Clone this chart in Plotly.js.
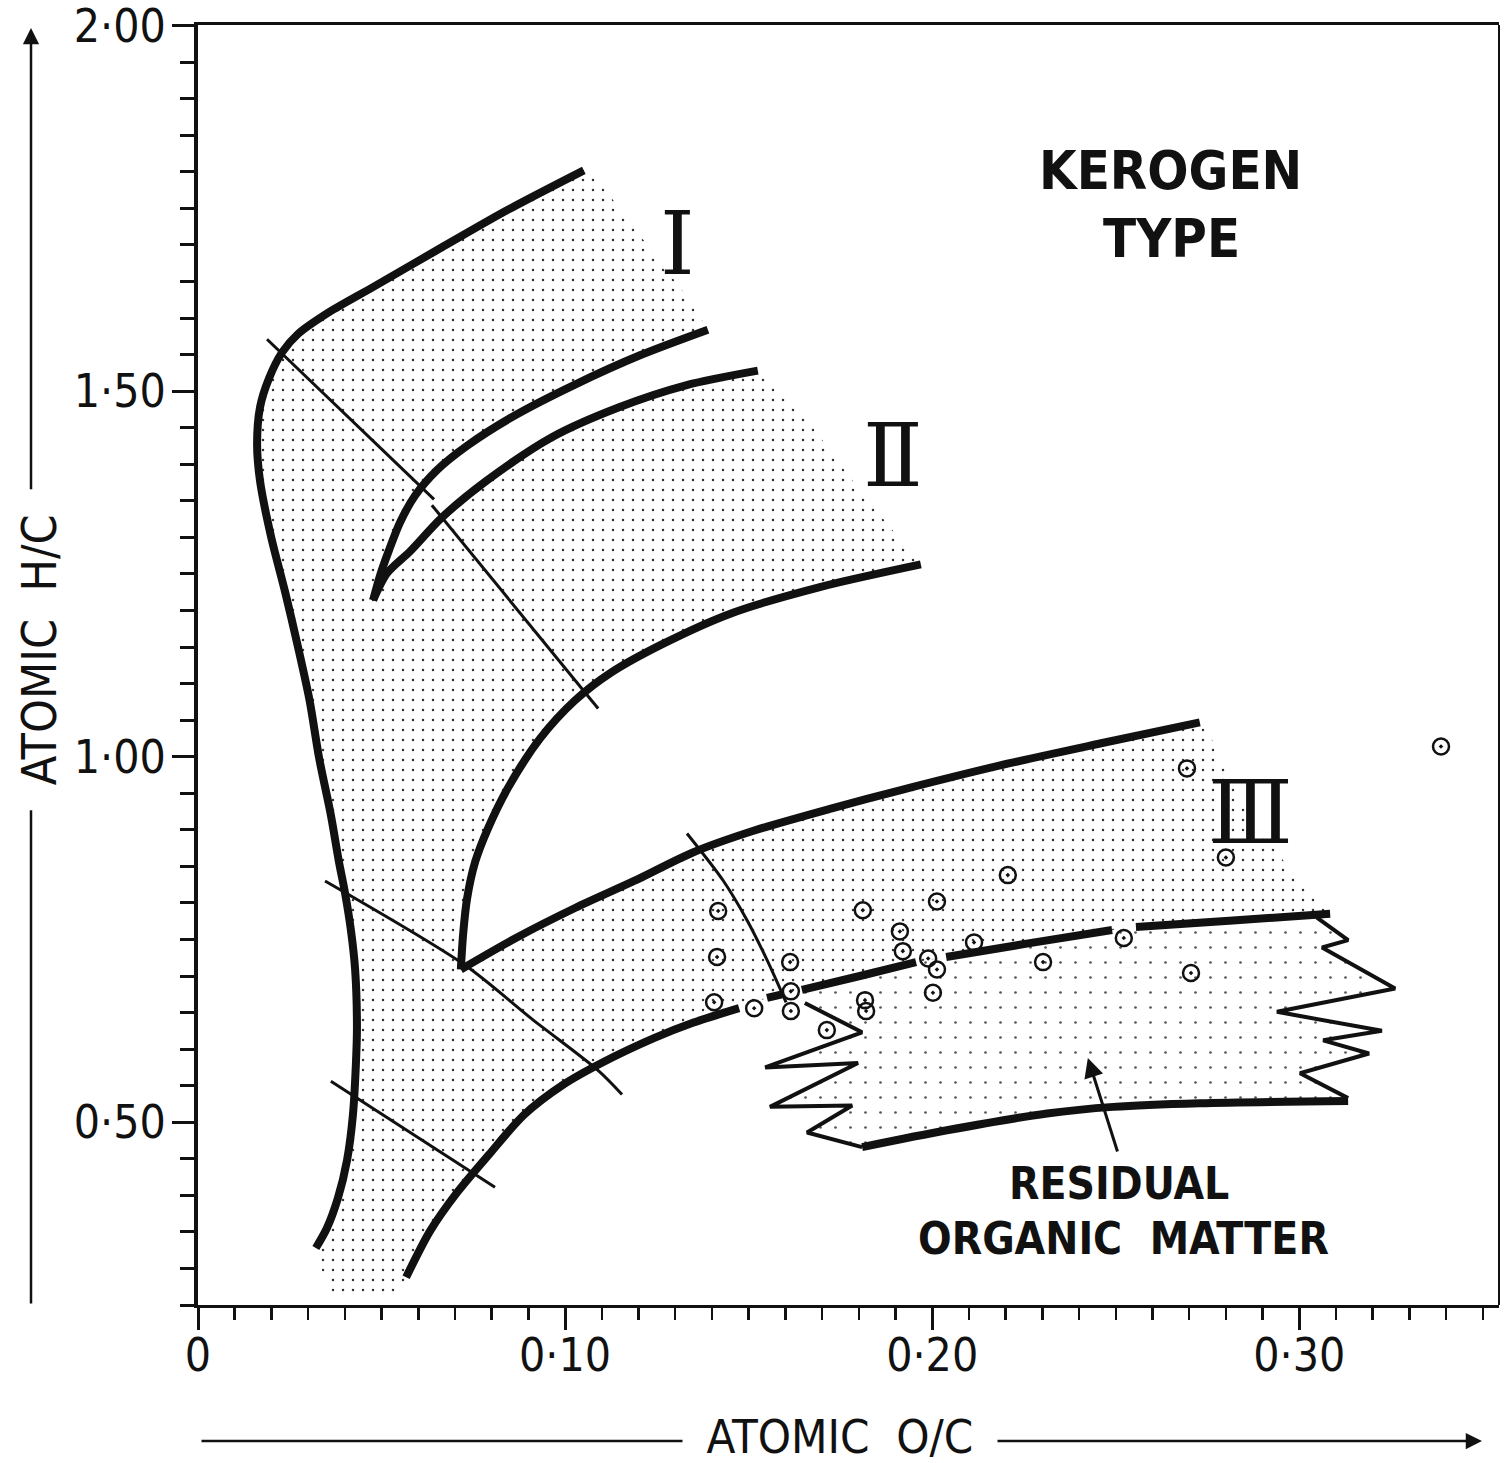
<!DOCTYPE html>
<html><head><meta charset="utf-8">
<script src="https://cdn.plot.ly/plotly-3.0.1.min.js"></script>
<style>html,body{margin:0;padding:0;background:#fff}</style>
</head><body><div id="chart" style="width:1512px;height:1463px"></div>
<script>
// ---------- DATA (atomic O/C on x, atomic H/C on y) ----------
const xTickVals = [0, 0.1, 0.2, 0.3];
const xTickText = ['0', '0·10', '0·20', '0·30'];
const yTickVals = [0.5, 1.0, 1.5, 2.0];
const yTickText = ['0·50', '1·00', '1·50', '2·00'];

// outer boundary of Type I (continues as left boundary down to low H/C)
const outerX = [0.1051,0.0844,0.0662,0.0479,0.0357,0.0272,0.0229,0.0193,0.0169,0.0161,0.0169,0.0199,0.0237,0.0272,0.0304,0.0330,0.0362,0.0384,0.0400,0.0417,0.0428,0.0433,0.0430,0.0422,0.0406,0.0381,0.0351,0.0321];
const outerY = [1.802,1.748,1.696,1.643,1.608,1.578,1.553,1.517,1.478,1.427,1.377,1.301,1.226,1.151,1.077,0.998,0.920,0.856,0.815,0.761,0.709,0.630,0.578,0.510,0.448,0.396,0.355,0.328];
// inner boundary of Type I (end -> tip)
const typeIInnerX = [0.1389,0.1204,0.1027,0.0864,0.0735,0.0651,0.0591,0.0550,0.0520,0.0496,0.0477];
const typeIInnerY = [1.584,1.549,1.509,1.467,1.426,1.392,1.357,1.320,1.282,1.248,1.214];
// upper boundary of Type II (tip -> end)
const typeIIUpperX = [0.0477,0.0515,0.0578,0.0662,0.0785,0.0964,0.1147,0.1329,0.1525];
const typeIIUpperY = [1.214,1.251,1.281,1.326,1.377,1.437,1.478,1.508,1.528];
// lower boundary of Type II (end -> tip)
const typeIILowerX = [0.1969,0.1694,0.1452,0.1269,0.1125,0.1027,0.0932,0.0844,0.0790,0.0755,0.0733,0.0722,0.0716];
const typeIILowerY = [1.263,1.232,1.196,1.155,1.115,1.077,1.025,0.957,0.902,0.856,0.806,0.756,0.709];
// upper boundary of Type III (tip -> end)
const typeIIIUpperX = [0.0716,0.0866,0.1027,0.1188,0.1348,0.1509,0.1724,0.1912,0.2185,0.2457,0.2729];
const typeIIIUpperY = [0.709,0.752,0.793,0.830,0.869,0.898,0.929,0.954,0.988,1.018,1.047];
// lower boundary of Type III (continues as top of residual organic matter)
const typeIIILowerX = [0.0567,0.0632,0.0706,0.0793,0.0888,0.0994,0.1103,0.1242,0.1348,0.1474,0.1550,0.1591,0.1645,0.1803,0.1956,0.2038,0.2266,0.2490,0.2555,0.2819,0.3084];
const typeIIILowerY = [0.288,0.351,0.404,0.456,0.510,0.551,0.582,0.615,0.636,0.656,0.670,0.675,0.681,0.700,0.719,0.726,0.745,0.763,0.767,0.776,0.785];
const typeIIILowerBreaks = [9, 11, 14, 17];

// residual organic matter outline
const residLeftX = [0.1653,0.1809,0.1545,0.1798,0.1558,0.1782,0.1659,0.1809];
const residLeftY = [0.663,0.623,0.575,0.581,0.521,0.523,0.486,0.466];
const residBottomX = [0.1809,0.2040,0.2313,0.2493,0.2729,0.3133];
const residBottomY = [0.466,0.489,0.512,0.521,0.526,0.529];
const residRightX = [0.3048,0.3133,0.3062,0.3261,0.2939,0.3225,0.3065,0.3190,0.3002,0.3133];
const residRightY = [0.780,0.749,0.739,0.683,0.651,0.625,0.612,0.594,0.567,0.533];

// maturity lines (thin)
const matA1X = [0.0188,0.0643], matA1Y = [1.571,1.352];
const matA2X = [0.0637,0.1090], matA2Y = [1.344,1.066];
const matBX = [0.0346,0.0727,0.0910,0.1092,0.1155], matBY = [0.830,0.715,0.641,0.570,0.538];
const matCX = [0.0362,0.0809], matCY = [0.556,0.411];
const matDX = [0.1332,0.1430,0.1496,0.1550,0.1602], matDY = [0.895,0.831,0.776,0.722,0.664];

// edges where the stippling fades out
const bottomFadeX = [0.0354,0.0545], bottomFadeY = [0.268,0.262];
const typeIIIEdgeX = [0.2975,0.2838,0.2757], typeIIIEdgeY = [0.845,0.940,1.029];
const typeIIEdgeX = [0.1803,0.1640], typeIIEdgeY = [1.364,1.474];
const typeIEdgeX = [0.1340,0.1204,0.1095], typeIEdgeY = [1.624,1.713,1.785];

// samples
const sampleOC = [0.3386,0.2694,0.2800,0.2206,0.2013,0.1811,0.1417,0.1912,0.2114,0.2522,0.1920,0.1414,0.1613,0.1989,0.2013,0.2302,0.2705,0.1615,0.2002,0.1406,0.1515,0.1615,0.1817,0.1820,0.1713];
const sampleHC = [1.014,0.984,0.862,0.838,0.802,0.790,0.789,0.761,0.746,0.752,0.734,0.726,0.719,0.724,0.709,0.719,0.704,0.679,0.677,0.664,0.656,0.652,0.667,0.652,0.626];

// ---------- BUILD ----------
const rev = a => a.slice().reverse();
const INK = '#111';
const FONT = '"Liberation Sans Narrow", "DejaVu Sans Condensed", "Arial Narrow", sans-serif';
const SERIF = '"DejaVu Serif", "Liberation Serif", serif';

const bigX = [].concat(outerX, bottomFadeX, typeIIILowerX, typeIIIEdgeX, rev(typeIIIUpperX), rev(typeIILowerX), typeIIEdgeX, rev(typeIIUpperX), rev(typeIInnerX), typeIEdgeX);
const bigY = [].concat(outerY, bottomFadeY, typeIIILowerY, typeIIIEdgeY, rev(typeIIIUpperY), rev(typeIILowerY), typeIIEdgeY, rev(typeIIUpperY), rev(typeIInnerY), typeIEdgeY);

const residX = [].concat(residLeftX, residBottomX, rev(residRightX), rev(typeIIILowerX.slice(12)));
const residY = [].concat(residLeftY, residBottomY, rev(residRightY), rev(typeIIILowerY.slice(12)));

// dashed upper line of residual: insert gaps
const lowX = [], lowY = [];
typeIIILowerX.forEach((v, i) => {
  lowX.push(v); lowY.push(typeIIILowerY[i]);
  if (typeIIILowerBreaks.includes(i)) { lowX.push(null); lowY.push(null); }
});

function curve(x, y, w, shape) {
  return {type:'scatter', mode:'lines', x, y, hoverinfo:'skip', showlegend:false,
    line:{color:INK, width:w, shape: shape || 'spline', smoothing:0.8}};
}

const traces = [
  {type:'scatter', mode:'lines', x:bigX, y:bigY, fill:'toself', hoverinfo:'skip', showlegend:false,
   line:{width:0, color:'rgba(0,0,0,0)'}, fillcolor:'rgba(255,255,255,0)',
   fillpattern:{shape:'.', fgcolor:'#333', bgcolor:'rgba(255,255,255,0)', size:10, solidity:0.05}},
  {type:'scatter', mode:'lines', x:residX, y:residY, fill:'toself', hoverinfo:'skip', showlegend:false,
   line:{width:0, color:'rgba(0,0,0,0)'}, fillcolor:'rgba(255,255,255,0)',
   fillpattern:{shape:'.', fgcolor:'#555', bgcolor:'rgba(255,255,255,0)', size:15, solidity:0.025}},
  curve(matA1X, matA1Y, 3, 'linear'),
  curve(matA2X, matA2Y, 3, 'linear'),
  curve(matBX, matBY, 3),
  curve(matCX, matCY, 3, 'linear'),
  curve(matDX, matDY, 3),
  curve(outerX, outerY, 8),
  curve(typeIInnerX, typeIInnerY, 8),
  curve(typeIIUpperX, typeIIUpperY, 8),
  curve(typeIILowerX, typeIILowerY, 8),
  curve(typeIIIUpperX, typeIIIUpperY, 8),
  curve(lowX, lowY, 8),
  curve(residLeftX, residLeftY, 4, 'linear'),
  curve(residRightX, residRightY, 4, 'linear'),
  curve(residBottomX, residBottomY, 8),
  {type:'scatter', mode:'markers', x:sampleOC, y:sampleHC, hoverinfo:'skip', showlegend:false,
   marker:{symbol:'circle-open-dot', size:16, color:INK, line:{width:2.5, color:INK}}}
];

const labelFont = (s, bold) => ({family:FONT, size:s, color:INK, weight: bold ? 'bold' : 'normal'});

const annotations = [
  // axis arrows
  {xref:'paper', yref:'paper', x:0.98693, y:-0.10625, ax:-1282, ay:0, text:'', showarrow:true,
   arrowhead:2, arrowsize:1.3, arrowwidth:2.5, arrowcolor:INK, standoff:0},
  {xref:'paper', yref:'paper', x:-0.12836, y:0.99766, ax:0, ay:1277, text:'', showarrow:true,
   arrowhead:2, arrowsize:1.3, arrowwidth:2.5, arrowcolor:INK, standoff:0},
  // axis titles
  {xref:'paper', yref:'paper', x:0.4935, y:-0.1025, text:'ATOMIC\u00a0\u00a0O/C', showarrow:false,
   font:labelFont(47), bgcolor:'#fff', borderpad:3, width:308, height:42, xanchor:'center', yanchor:'middle'},
  {xref:'paper', yref:'paper', x:-0.1224, y:0.5117, text:'ATOMIC\u00a0\u00a0H/C', showarrow:false, textangle:-90,
   font:labelFont(48), bgcolor:'#fff', borderpad:4, width:312, height:44, xanchor:'center', yanchor:'middle'},
  // labels
  {x:0.2648, y:1.802, text:'KEROGEN', showarrow:false, font:labelFont(54, true)},
  {x:0.2651, y:1.709, text:'TYPE', showarrow:false, font:labelFont(54, true)},
  {x:0.1305, y:1.702, text:'Ⅰ', showarrow:false, font:{family:SERIF, size:88, color:INK}},
  {x:0.1893, y:1.412, text:'Ⅱ', showarrow:false, font:{family:SERIF, size:88, color:INK}},
  {x:0.2868, y:0.923, text:'Ⅲ', showarrow:false, font:{family:SERIF, size:88, color:INK}},
  {x:0.2509, y:0.416, text:'RESIDUAL', showarrow:false, font:labelFont(44, true)},
  {x:0.2520, y:0.341, text:'ORGANIC\u00a0\u00a0MATTER', showarrow:false, font:labelFont(44, true)},
  {x:0.2424, y:0.588, ax:0.2506, ay:0.458, axref:'x', ayref:'y', text:'', showarrow:true,
   arrowhead:2, arrowsize:1.3, arrowwidth:3, arrowcolor:INK, standoff:0}
];

const layout = {
  width:1512, height:1463,
  margin:{l:198, r:13, t:25, b:158, pad:0},
  paper_bgcolor:'#fff', plot_bgcolor:'#fff',
  showlegend:false,
  xaxis:{range:[0, 0.3544], tickmode:'array', tickvals:xTickVals, ticktext:xTickText,
    showgrid:false, zeroline:false, showline:true, linewidth:3, linecolor:INK, mirror:true,
    ticks:'outside', ticklen:22, tickwidth:3, tickcolor:INK, ticklabelstandoff:-14, ticklabeloverflow:'allow',
    tickfont:{family:FONT, size:46, color:INK},
    minor:{tickmode:'linear', tick0:0, dtick:0.01, ticks:'outside', ticklen:12, tickwidth:2.5, tickcolor:INK, showgrid:false}},
  yaxis:{range:[0.25, 2.0008], tickmode:'array', tickvals:yTickVals, ticktext:yTickText,
    showgrid:false, zeroline:false, showline:true, linewidth:4, linecolor:INK, mirror:false,
    ticks:'outside', ticklen:22, tickwidth:3, tickcolor:INK, ticklabelstandoff:-3, ticklabeloverflow:'allow',
    tickfont:{family:FONT, size:46, color:INK},
    minor:{tickmode:'linear', tick0:0, dtick:0.05, ticks:'outside', ticklen:14, tickwidth:3, tickcolor:INK, showgrid:false}},
  shapes:[
    {type:'line', xref:'paper', yref:'paper', x0:1, x1:1, y0:0, y1:1, line:{color:INK, width:2}}
  ],
  annotations
};

Plotly.newPlot('chart', traces, layout, {staticPlot:true, displayModeBar:false});
</script>
</body></html>
